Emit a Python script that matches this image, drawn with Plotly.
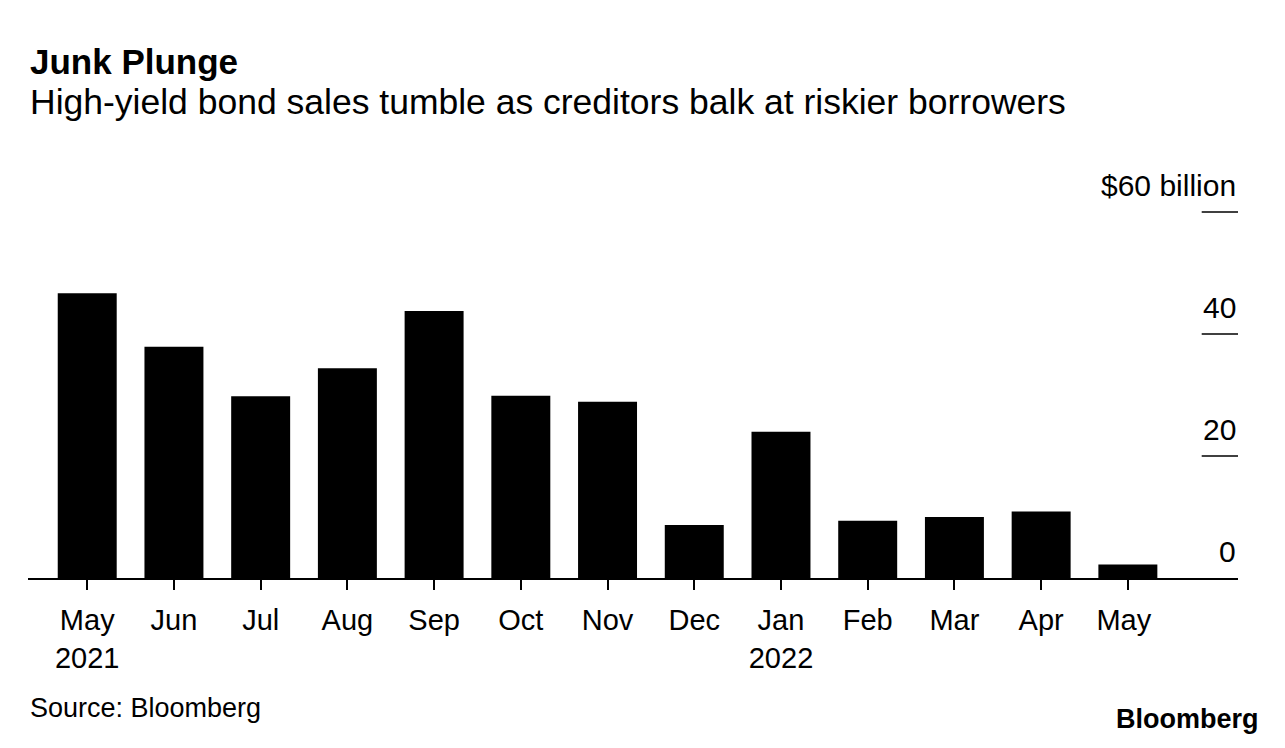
import plotly.graph_objects as go

months = ["May<br>2021", "Jun", "Jul", "Aug", "Sep", "Oct", "Nov", "Dec",
          "Jan<br>2022", "Feb", "Mar", "Apr", "May "]
sales = [46.7, 37.9, 29.8, 34.4, 43.8, 29.9, 28.9, 8.7, 24.0, 9.4, 10.0, 10.9, 2.2]
y_ticks = [0, 20, 40, 60]
y_labels = ["0", "20", "40", "$60 billion"]

FONT = "Liberation Sans, Arial, Helvetica, sans-serif"
W, H = 1285, 748
DX, DY = 8, 9  # page offset compensation
L = 28 - DX
R = W - (1238 - DX)
T = 207 - DY
B = H - (579.5 - DY)
PH = H - T - B
PW = W - L - R


def py(pix):
    """paper y for a reference pixel row"""
    return ((H - B) - (pix - DY)) / PH


fig = go.Figure()
fig.add_trace(go.Bar(
    x=list(range(len(months))), y=sales,
    marker=dict(color="#000000", line=dict(width=0)),
    width=0.68, hoverinfo="skip",
))

shapes = []
annotations = []
for v, lab in zip(y_ticks, y_labels):
    if v > 0:
        shapes.append(dict(type="line", xref="paper", yref="y",
                           x0=0.970, x1=1.0, y0=v, y1=v,
                           line=dict(color="#000000", width=1.5)))
    annotations.append(dict(text=lab, xref="paper", yref="y", x=1.0, y=v,
                            xanchor="right", yanchor="middle", yshift=27,
                            showarrow=False,
                            font=dict(family=FONT, size=30, color="#000000")))

annotations += [
    dict(text="<b>Junk Plunge</b>", xref="paper", yref="paper", x=0,
         y=py(62), xanchor="left", yanchor="middle",
         showarrow=False, font=dict(family=FONT, size=35, color="#000000")),
    dict(text="High-yield bond sales tumble as creditors balk at riskier borrowers",
         xref="paper", yref="paper", x=0,
         y=py(103), xanchor="left", yanchor="middle",
         showarrow=False, font=dict(family=FONT, size=35.5, color="#000000")),
    dict(text="Source: Bloomberg", xref="paper", yref="paper", x=0,
         y=py(710), xanchor="left", yanchor="middle",
         showarrow=False, font=dict(family=FONT, size=27, color="#000000")),
    dict(text="<b>Bloomberg</b>", xref="paper", yref="paper",
         x=(1261 - DX - L) / PW,
         y=py(721), xanchor="right", yanchor="middle",
         showarrow=False, font=dict(family=FONT, size=27, color="#000000")),
]

fig.update_layout(
    width=W, height=H,
    margin=dict(l=L, r=R, t=T, b=B, pad=0),
    paper_bgcolor="#ffffff", plot_bgcolor="#ffffff",
    showlegend=False,
    bargap=0.32,
    shapes=shapes,
    annotations=annotations,
    font=dict(family=FONT, color="#000000"),
)
fig.update_xaxes(
    tickmode="array", tickvals=list(range(len(months))), ticktext=months,
    range=[-0.683, 13.27],
    showline=True, linecolor="#000000", linewidth=2,
    ticks="outside", ticklen=10, tickwidth=1.5, tickcolor="#000000",
    tickfont=dict(family=FONT, size=29, color="#000000"),
    ticklabelstandoff=5,
    showgrid=False, zeroline=False, fixedrange=True,
)
fig.update_yaxes(
    range=[0, 61], showticklabels=False, showgrid=False, zeroline=False,
    showline=False, ticks="", fixedrange=True,
)

fig.write_html("out.html")
